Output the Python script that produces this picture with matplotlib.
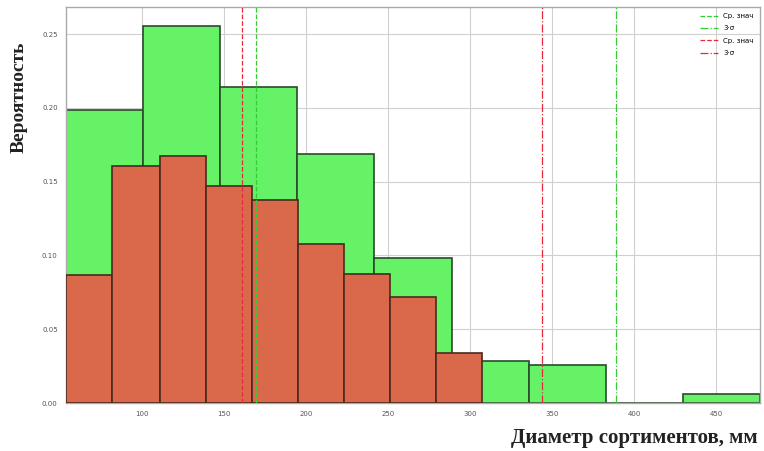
import numpy as np
import matplotlib
matplotlib.use("Agg")
import matplotlib.pyplot as plt

# Data
green_edges = [53.7, 100.7, 147.7, 194.7, 241.7, 288.7, 335.7, 382.7, 429.7, 476.7]
green_prob = [0.1985, 0.2554, 0.2140, 0.1690, 0.0980, 0.0285, 0.0260, 0.0, 0.0060]
red_edges = [53.7, 82.0, 110.9, 139.0, 167.1, 195.1, 223.2, 251.2, 279.3, 307.3]
red_prob = [0.0867, 0.1606, 0.1673, 0.1470, 0.1375, 0.1077, 0.0874, 0.0718, 0.0339]
green_mean, green_3s = 169.5, 389.0
red_mean, red_3s = 161.0, 343.9
xticks = [100, 150, 200, 250, 300, 350, 400, 450]
yticks = [0.00, 0.05, 0.10, 0.15, 0.20, 0.25]
legend_labels = ["Ср. знач", "3·σ", "Ср. знач", "3·σ"]

fig = plt.figure(figsize=(7.64, 4.51), dpi=100)
ax = fig.add_axes([66/764, 48/451, 694/764, 396/451])

ge = np.array(green_edges)
re_ = np.array(red_edges)
ax.bar(ge[:-1], green_prob, width=np.diff(ge), align='edge', color='#66f266',
       edgecolor='#2a4a2a', linewidth=1.2, zorder=2)
ax.bar(re_[:-1], red_prob, width=np.diff(re_), align='edge', color='#d9694a',
       edgecolor='#4a2a20', linewidth=1.2, zorder=3)

l1 = ax.axvline(green_mean, color='#33cc33', ls='--', lw=0.9, zorder=4)
l2 = ax.axvline(green_3s, color='#33cc33', ls='-.', lw=0.9, zorder=4)
l3 = ax.axvline(red_mean, color='#e8283c', ls='--', lw=0.9, zorder=4)
l4 = ax.axvline(red_3s, color='#e8283c', ls='-.', lw=0.9, zorder=4)

ax.set_xlim(green_edges[0], green_edges[-1])
ax.set_ylim(0, 0.2683)
ax.set_xticks(xticks)
ax.set_xticklabels([str(t) for t in xticks])
ax.set_yticks(yticks)
ax.set_yticklabels([f"{t:.2f}" for t in yticks])
ax.tick_params(labelsize=5, colors='#555555', length=0, pad=6)
ax.grid(True, color='#d0d0d0', lw=0.8, zorder=0)
ax.set_axisbelow(True)
for s in ax.spines.values():
    s.set_color('#aaaaaa')
    s.set_linewidth(1.0)

leg = ax.legend([l1, l2, l3, l4], legend_labels, loc='upper right', fontsize=5,
                frameon=False, handlelength=2.5, labelspacing=0.9)

fig.text(19/764, 1 - 97/451, "Вероятность", rotation=90, ha='center', va='center',
         fontsize=14, fontweight='bold', family='Liberation Serif', color='#222222')
fig.text(634/764, 1 - 438/451, "Диаметр сортиментов, мм", ha='center', va='center',
         fontsize=15, fontweight='bold', family='Liberation Serif', color='#222222')

fig.savefig("out.png", dpi=100)
